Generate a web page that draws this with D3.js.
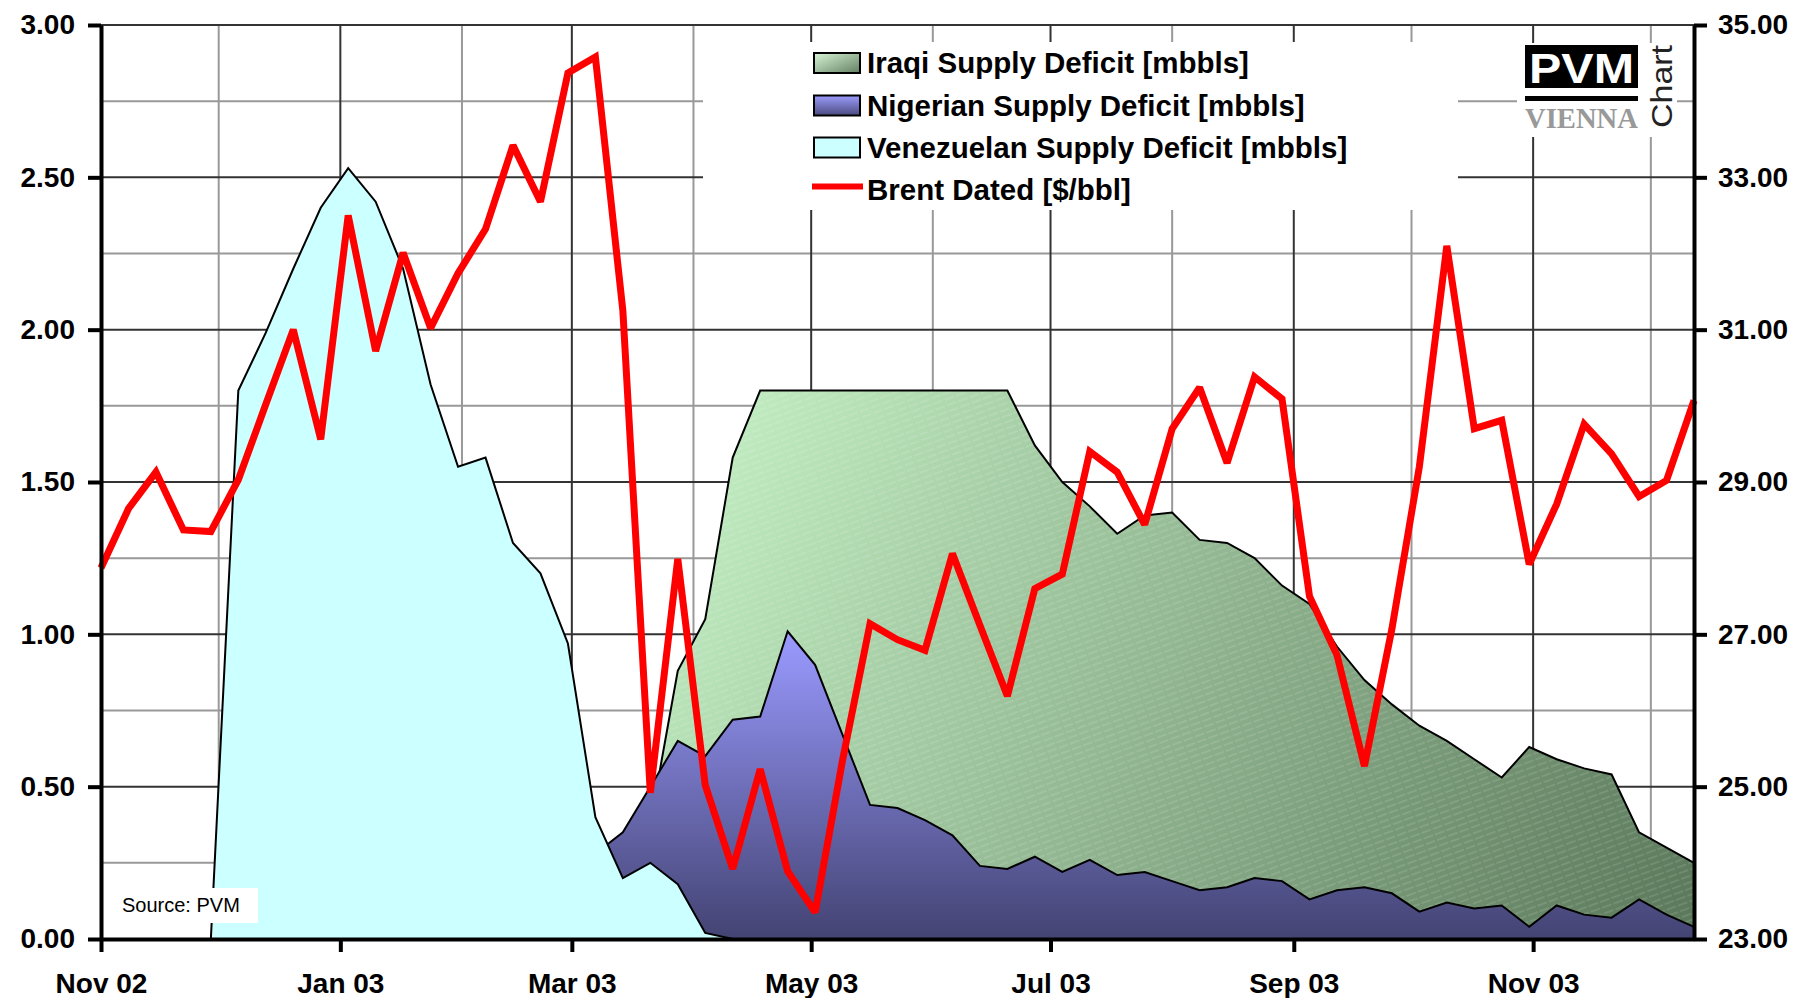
<!DOCTYPE html>
<html>
<head>
    <meta charset="utf-8" />
    <title>Supply Deficits and Brent Dated</title>
    <script src="https://cdn.jsdelivr.net/npm/d3@7"></script>
    <style>
        body { margin: 0; background: #fff; }
        svg { display: block; font-family: "Liberation Sans", Arial, sans-serif; }
    </style>
</head>
<body>
<svg id="CHART" width="1800" height="998"></svg>
<script>
    // weekly observations (Fridays)
    var weeks = [
        "2002-11-01", "2002-11-08", "2002-11-15", "2002-11-22", "2002-11-29",
        "2002-12-06", "2002-12-13", "2002-12-20", "2002-12-27",
        "2003-01-03", "2003-01-10", "2003-01-17", "2003-01-24", "2003-01-31",
        "2003-02-07", "2003-02-14", "2003-02-21", "2003-02-28",
        "2003-03-07", "2003-03-14", "2003-03-21", "2003-03-28",
        "2003-04-04", "2003-04-11", "2003-04-18", "2003-04-25",
        "2003-05-02", "2003-05-09", "2003-05-16", "2003-05-23", "2003-05-30",
        "2003-06-06", "2003-06-13", "2003-06-20", "2003-06-27",
        "2003-07-04", "2003-07-11", "2003-07-18", "2003-07-25",
        "2003-08-01", "2003-08-08", "2003-08-15", "2003-08-22", "2003-08-29",
        "2003-09-05", "2003-09-12", "2003-09-19", "2003-09-26",
        "2003-10-03", "2003-10-10", "2003-10-17", "2003-10-24", "2003-10-31",
        "2003-11-07", "2003-11-14", "2003-11-21", "2003-11-28",
        "2003-12-05", "2003-12-12"
    ];

    // Brent Dated [$/bbl] - right axis
    var brent = [
        27.87, 28.65, 29.13, 28.37, 28.35, 29.03, 30.02, 31.00, 29.56, 32.50,
        30.72, 32.01, 31.02, 31.74, 32.32, 33.42, 32.68, 34.37, 34.58, 31.25,
        24.92, 27.99, 25.02, 23.92, 25.23, 23.89, 23.35, 25.35, 27.14, 26.93,
        26.79, 28.06, 27.12, 26.19, 27.60, 27.79, 29.40, 29.13, 28.44, 29.70,
        30.24, 29.25, 30.38, 30.09, 27.50, 26.73, 25.27, 27.07, 29.20, 32.10,
        29.70, 29.81, 27.92, 28.71, 29.76, 29.37, 28.81, 29.02, 30.07
    ];

    // supply deficits [mbbls] - left axis
    var iraqi = [
        null, null, null, null, null, null, null, null, null, null,
        null, null, null, null, null, null, null, null, null, 0.00,
        0.38, 0.88, 1.05, 1.58, 1.80, 1.80, 1.80, 1.80, 1.80, 1.80,
        1.80, 1.80, 1.80, 1.80, 1.62, 1.50, 1.42, 1.33, 1.39, 1.40,
        1.31, 1.30, 1.25, 1.16, 1.10, 0.96, 0.85, 0.77, 0.70, 0.65,
        0.59, 0.53, 0.63, 0.59, 0.56, 0.54, 0.35, 0.30, 0.25
    ];
    var nigerian = [
        null, null, null, null, null, null, null, null, null, null,
        null, null, null, null, null, null, null, null, 0.28, 0.35,
        0.50, 0.65, 0.60, 0.72, 0.73, 1.01, 0.90, 0.67, 0.44, 0.43,
        0.39, 0.34, 0.24, 0.23, 0.27, 0.22, 0.26, 0.21, 0.22, 0.19,
        0.16, 0.17, 0.20, 0.19, 0.13, 0.16, 0.17, 0.15, 0.09, 0.12,
        0.10, 0.11, 0.04, 0.11, 0.08, 0.07, 0.13, 0.08, 0.04
    ];
    var venezuelan = [
        null, null, null, null, 0.00, 1.80, 1.99, 2.20, 2.40, 2.53,
        2.42, 2.20, 1.82, 1.55, 1.58, 1.30, 1.20, 0.97, 0.40, 0.20,
        0.25, 0.18, 0.02, 0.00, null, null, null, null, null, null,
        null, null, null, null, null, null, null, null, null, null,
        null, null, null, null, null, null, null, null, null, null,
        null, null, null, null, null, null, null, null, null
    ];

    var leftTicks = [0, 0.5, 1, 1.5, 2, 2.5, 3];
    var leftMinor = [0.25, 0.75, 1.25, 1.75, 2.25, 2.75];
    var rightTicks = [23, 25, 27, 29, 31, 33, 35];
    var monthTicks = ["2002-11-01", "2003-01-01", "2003-03-01", "2003-05-01", "2003-07-01", "2003-09-01", "2003-11-01"];
    var monthMinor = ["2002-12-01", "2003-02-01", "2003-04-01", "2003-06-01", "2003-08-01", "2003-10-01", "2003-12-01"];
    var legendNames = [
        "Iraqi Supply Deficit [mbbls]",
        "Nigerian Supply Deficit [mbbls]",
        "Venezuelan Supply Deficit [mbbls]",
        "Brent Dated [$/bbl]"
    ];

    /*----------------------- SCALES -----------------------*/
    var L = 101, R = 1694, T = 25, B = 939;
    var parse = d3.timeParse("%Y-%m-%d");
    var dates = weeks.map(parse);

    var x = d3.scaleTime().domain([parse("2002-11-01"), parse("2003-12-12")]).range([L, R]);
    var y = d3.scaleLinear().domain([0, 3]).range([B, T]);
    var y2 = d3.scaleLinear().domain([23, 35]).range([B, T]);

    var svg = d3.select("#CHART");
    var defs = svg.append("defs");

    // gradients
    var gGreen = defs.append("linearGradient").attr("id", "gGreen")
        .attr("gradientUnits", "userSpaceOnUse")
        .attr("x1", 700).attr("y1", 390).attr("x2", R).attr("y2", B);
    gGreen.append("stop").attr("offset", 0).attr("stop-color", "#c4f0c4");
    gGreen.append("stop").attr("offset", 1).attr("stop-color", "#5a775a");

    var gBlue = defs.append("linearGradient").attr("id", "gBlue")
        .attr("gradientUnits", "userSpaceOnUse")
        .attr("x1", 0).attr("y1", y(1.0)).attr("x2", 0).attr("y2", B);
    gBlue.append("stop").attr("offset", 0).attr("stop-color", "#9a9aff");
    gBlue.append("stop").attr("offset", 1).attr("stop-color", "#434373");

    var sGreen = defs.append("linearGradient").attr("id", "sGreen")
        .attr("x1", 0).attr("y1", 0).attr("x2", 1).attr("y2", 1);
    sGreen.append("stop").attr("offset", 0).attr("stop-color", "#d8f6d6");
    sGreen.append("stop").attr("offset", 1).attr("stop-color", "#637f63");

    var sBlue = defs.append("linearGradient").attr("id", "sBlue")
        .attr("x1", 0).attr("y1", 0).attr("x2", 0).attr("y2", 1);
    sBlue.append("stop").attr("offset", 0).attr("stop-color", "#9c9cff");
    sBlue.append("stop").attr("offset", 1).attr("stop-color", "#4a4a7e");

    // faint hatch on the iraqi area
    var hatch = defs.append("pattern").attr("id", "hatch")
        .attr("patternUnits", "userSpaceOnUse")
        .attr("width", 12).attr("height", 6)
        .attr("patternTransform", "rotate(-20)");
    hatch.append("line").attr("x1", 0).attr("y1", 3).attr("x2", 12).attr("y2", 3)
        .attr("stroke", "#fff").attr("stroke-opacity", 0.22)
        .attr("stroke-width", 1).attr("stroke-dasharray", "5,2");

    /*----------------------- GRID -----------------------*/
    var grid = svg.append("g");
    function hLines(vals, col) {
        grid.selectAll(null).data(vals).enter().append("line")
            .attr("x1", L).attr("x2", R)
            .attr("y1", function (d) { return y(d); })
            .attr("y2", function (d) { return y(d); })
            .attr("stroke", col).attr("stroke-width", 2);
    }
    function vLines(vals, col) {
        grid.selectAll(null).data(vals).enter().append("line")
            .attr("y1", T).attr("y2", B)
            .attr("x1", function (d) { return x(parse(d)); })
            .attr("x2", function (d) { return x(parse(d)); })
            .attr("stroke", col).attr("stroke-width", 2);
    }
    hLines(leftMinor, "#999");
    vLines(monthMinor, "#999");
    hLines(leftTicks.slice(1), "#333");
    vLines(monthTicks.slice(1), "#333");

    // white boxes behind legend and logo
    svg.append("rect").attr("x", 703).attr("y", 42).attr("width", 755).attr("height", 168).attr("fill", "#fff");
    svg.append("rect").attr("x", 1517).attr("y", 43).attr("width", 160).attr("height", 94).attr("fill", "#fff");

    /*----------------------- AREAS -----------------------*/
    function areaOf(vals) {
        return d3.area()
            .defined(function (d, i) { return vals[i] != null; })
            .x(function (d, i) { return x(dates[i]); })
            .y0(B)
            .y1(function (d, i) { return y(vals[i]); })(vals);
    }
    function lineOf(vals, sc) {
        return d3.line()
            .defined(function (d, i) { return vals[i] != null; })
            .x(function (d, i) { return x(dates[i]); })
            .y(function (d, i) { return sc(vals[i]); })(vals);
    }

    var plot = svg.append("g");
    plot.append("path").attr("d", areaOf(iraqi)).attr("fill", "url(#gGreen)");
    plot.append("path").attr("d", areaOf(iraqi)).attr("fill", "url(#hatch)");
    plot.append("path").attr("d", lineOf(iraqi, y)).attr("fill", "none").attr("stroke", "#000").attr("stroke-width", 2);

    plot.append("path").attr("d", areaOf(nigerian)).attr("fill", "url(#gBlue)");
    plot.append("path").attr("d", lineOf(nigerian, y)).attr("fill", "none").attr("stroke", "#000").attr("stroke-width", 2);

    plot.append("path").attr("d", areaOf(venezuelan)).attr("fill", "#ccffff");
    plot.append("path").attr("d", lineOf(venezuelan, y)).attr("fill", "none").attr("stroke", "#000").attr("stroke-width", 2);

    plot.append("path").attr("d", lineOf(brent, y2)).attr("fill", "none")
        .attr("stroke", "#ff0000").attr("stroke-width", 7)
        .attr("stroke-linejoin", "miter").attr("stroke-miterlimit", 2);

    /*----------------------- AXES -----------------------*/
    function styleAxis(g) {
        g.attr("font-size", 28).attr("font-weight", "bold")
            .attr("font-family", "'Liberation Sans', Arial, sans-serif");
        g.select(".domain").attr("stroke", "#000").attr("stroke-width", 4);
        g.selectAll(".tick line").attr("stroke", "#000").attr("stroke-width", 4);
        g.selectAll(".tick text").attr("fill", "#000");
    }

    svg.append("g").attr("transform", "translate(" + L + ",0)")
        .call(d3.axisLeft(y).tickValues(leftTicks).tickSize(13).tickSizeOuter(0)
            .tickPadding(13).tickFormat(d3.format(".2f")))
        .call(styleAxis);

    svg.append("g").attr("transform", "translate(" + R + ",0)")
        .call(d3.axisRight(y2).tickValues(rightTicks).tickSize(13).tickSizeOuter(0)
            .tickPadding(11).tickFormat(d3.format(".2f")))
        .call(styleAxis);

    svg.append("g").attr("transform", "translate(0," + B + ")")
        .call(d3.axisBottom(x).tickValues(monthTicks.map(parse)).tickSize(13).tickSizeOuter(0)
            .tickPadding(21).tickFormat(d3.timeFormat("%b %y")))
        .call(styleAxis);

    /*----------------------- LEGEND -----------------------*/
    var legY = [63, 105.5, 147.5, 189.5];
    var leg = svg.append("g");
    var swFill = ["url(#sGreen)", "url(#sBlue)", "#ccffff"];
    swFill.forEach(function (f, i) {
        leg.append("rect").attr("x", 814).attr("y", legY[i] - 10)
            .attr("width", 46).attr("height", 20)
            .attr("fill", f).attr("stroke", "#000").attr("stroke-width", 2);
    });
    leg.append("line").attr("x1", 812).attr("x2", 863)
        .attr("y1", legY[3] - 3).attr("y2", legY[3] - 3)
        .attr("stroke", "#ff0000").attr("stroke-width", 6);
    legendNames.forEach(function (n, i) {
        leg.append("text").attr("x", 867).attr("y", legY[i] + 10)
            .attr("font-size", 29.5).attr("font-weight", "bold").attr("fill", "#000")
            .text(n);
    });

    /*----------------------- SOURCE + LOGO -----------------------*/
    svg.append("rect").attr("x", 115).attr("y", 888).attr("width", 143).attr("height", 35).attr("fill", "#fff");
    svg.append("text").attr("x", 122).attr("y", 912).attr("font-size", 20).attr("fill", "#000").text("Source: PVM");

    var logo = svg.append("g");
    logo.append("rect").attr("x", 1525).attr("y", 45).attr("width", 113).attr("height", 43).attr("fill", "#000");
    logo.append("text").attr("x", 1529).attr("y", 83)
        .attr("font-size", 42).attr("font-weight", "bold").attr("fill", "#fff")
        .attr("textLength", 105).attr("lengthAdjust", "spacingAndGlyphs")
        .text("PVM");
    logo.append("rect").attr("x", 1525).attr("y", 96).attr("width", 113).attr("height", 5).attr("fill", "#000");
    logo.append("text").attr("x", 1525).attr("y", 128)
        .attr("font-family", "'Liberation Serif', 'Times New Roman', serif")
        .attr("font-size", 30).attr("font-weight", "bold").attr("fill", "#999")
        .attr("textLength", 113).attr("lengthAdjust", "spacingAndGlyphs")
        .text("VIENNA");
    logo.append("text").attr("transform", "translate(1672,128) rotate(-90)")
        .attr("font-size", 29).attr("fill", "#222")
        .attr("textLength", 83).attr("lengthAdjust", "spacingAndGlyphs")
        .text("Chart");
</script>
</body>
</html>
